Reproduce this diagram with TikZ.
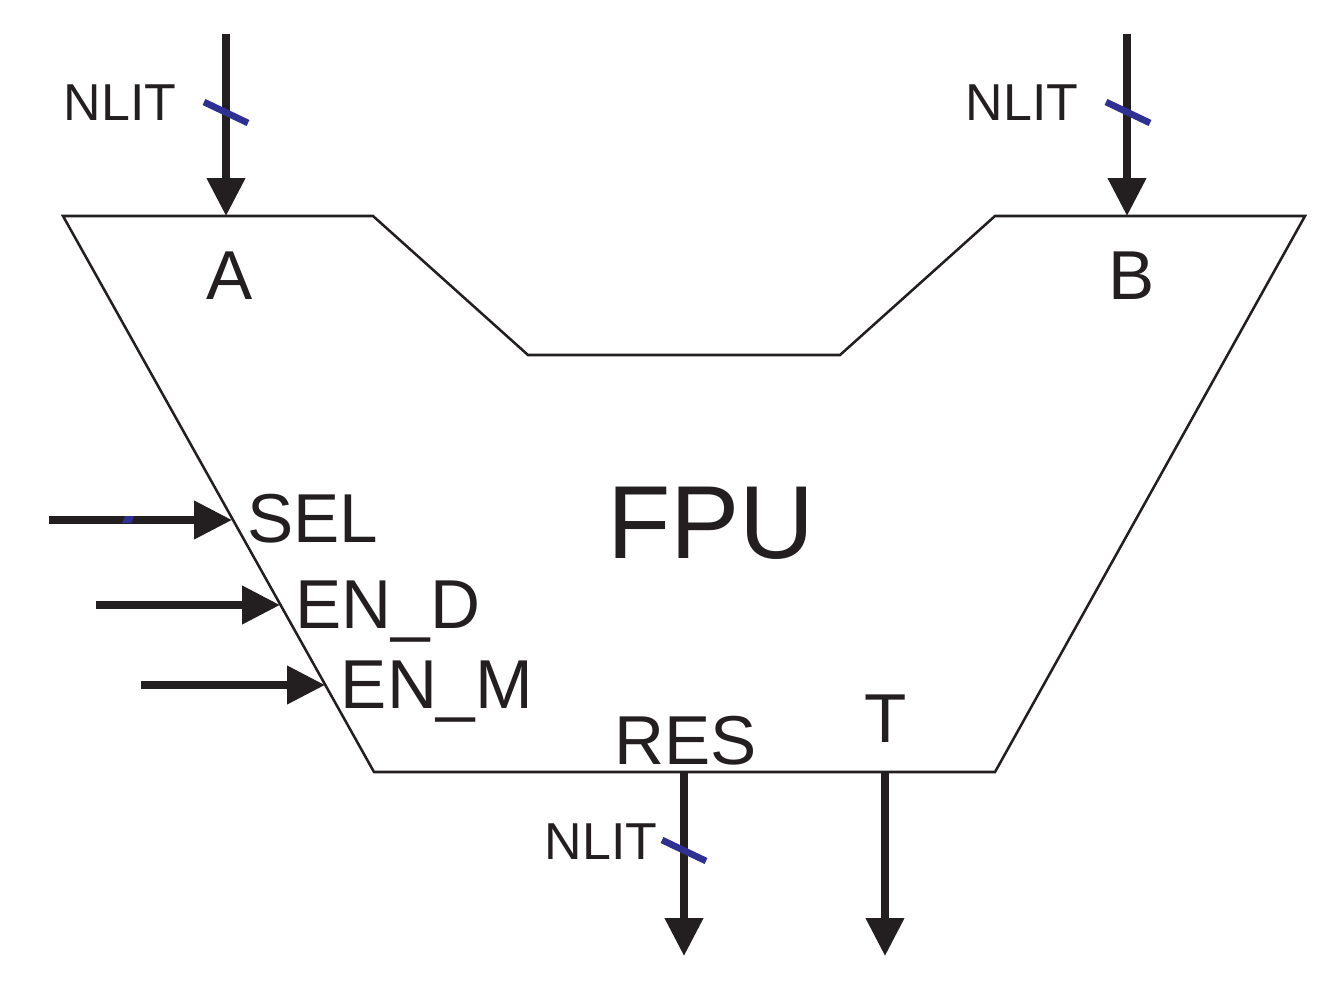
\documentclass[tikz,border=0pt]{standalone}
\usepackage{fontspec}
\setmainfont{Liberation Sans}
\usetikzlibrary{arrows.meta}
\definecolor{ink}{HTML}{231F20}
\definecolor{slashblue}{HTML}{2E3192}
\tikzset{
  px/.style={x=0.0264cm,y=-0.0264cm},
  wire/.style={draw=ink,line width=5.6pt,-{Triangle[length=38*0.0264cm,width=37*0.0264cm]}},
  body/.style={draw=ink,line width=1.9pt,line join=miter},
  slash/.style={draw=slashblue,line width=5pt},
  lab/.style={text=ink,inner sep=0pt,anchor=base},
  small lab/.style={lab,font=\fontsize{39}{39}\selectfont},
  mid lab/.style={lab,font=\fontsize{52}{52}\selectfont},
  big lab/.style={lab,font=\fontsize{78}{78}\selectfont}
}
\begin{document}
\begin{tikzpicture}[px]
\useasboundingbox (0,0) rectangle (1327,997);
\coordinate (p1) at (63,216);
\coordinate (p2) at (373,216);
\coordinate (p3) at (528,355);
\coordinate (p4) at (840,355);
\coordinate (p5) at (995,216);
\coordinate (p6) at (1305,216);
\coordinate (p7) at (995,772);
\coordinate (p8) at (374,772);
\draw[body] (p1)--(p2)--(p3)--(p4)--(p5)--(p6)--(p7)--(p8)--cycle;
% wires
\coordinate (a0) at (226,34); \coordinate (a1) at (226,216);
\coordinate (b0) at (1127,34); \coordinate (b1) at (1127,216);
\coordinate (s0) at (49,520); \coordinate (s1) at (232,520);
\coordinate (d0) at (96,605); \coordinate (d1) at (280,605);
\coordinate (m0) at (141,685); \coordinate (m1) at (325,685);
\coordinate (r0) at (684,772); \coordinate (r1) at (684,956);
\coordinate (t0) at (885,772); \coordinate (t1) at (885,956);
\foreach \u/\v in {a0/a1,b0/b1,s0/s1,d0/d1,m0/m1,r0/r1,t0/t1} \draw[wire] (\u)--(\v);
% bus slashes
\coordinate (sa0) at (204,102); \coordinate (sa1) at (248,123);
\coordinate (sb0) at (1106,102); \coordinate (sb1) at (1150,123);
\coordinate (sr0) at (662,840); \coordinate (sr1) at (706,861);
\foreach \u/\v in {sa0/sa1,sb0/sb1,sr0/sr1} \draw[slash] (\u)--(\v);
\fill[slashblue] (125,516) -- (134,516) -- (131.5,523) -- (122,523) -- cycle;
% labels
\node[small lab] (n1) at (120,121) {NLIT};
\node[small lab] (n2) at (1022,121) {NLIT};
\node[small lab] (n3) at (601,859) {NLIT};
\node[mid lab] (la) at (230,299) {A};
\node[mid lab] (lb) at (1132,299) {B};
\node[mid lab] (ls) at (313,542) {SEL};
\node[mid lab] (ld) at (388,628) {EN\_D};
\node[mid lab] (lm) at (437,708) {EN\_M};
\node[mid lab] (lr) at (686,764) {RES};
\node[mid lab] (lt) at (886,742) {T};
\node[big lab] (lf) at (711,558) {FPU};
\end{tikzpicture}
\end{document}
